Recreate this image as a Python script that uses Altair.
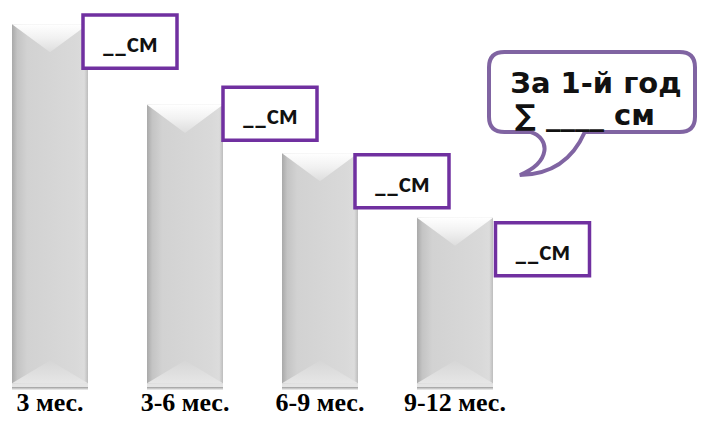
import altair as alt
import pandas as pd

# ---- data ----
periods = ["3 мес.", "3-6 мес.", "6-9 мес.", "9-12 мес."]
growth = [9.0, 7.0, 5.8, 4.2]          # relative bar heights
box_label = "__см"
bubble_line1 = "За 1-й год"
bubble_line2 = "∑ ____  см"

df = pd.DataFrame({"period": periods, "growth": growth})

# ---- layout / style (not data) ----
W, H = 689, 379
box_dx = [80, 85, 82, 87.5]
box_dy = [17.5, 9, 28, 31.5]
PURPLE = "#7030a0"
BUBBLE = "#8064a2"

x_enc = alt.X(
    "period:N", sort=periods,
    scale=alt.Scale(range=[4, 485], paddingInner=0.437, paddingOuter=0),
    axis=alt.Axis(title=None, labelAngle=0, domain=False, ticks=False, labelPadding=23,
                  labelBaseline="alphabetic",
                  labelFont="Liberation Serif", labelFontSize=26, labelFontWeight="bold",
                  labelColor="black", grid=False),
)
y_scale = alt.Scale(domain=[0, 9.4], nice=False, zero=True)
y_enc = alt.Y("growth:Q", scale=y_scale, axis=None)

base = alt.Chart(df)

bar_grad = alt.Gradient(
    gradient="linear", x1=0, y1=0, x2=1, y2=0,
    stops=[
        alt.GradientStop(offset=0.0, color="#a9a9a9"),
        alt.GradientStop(offset=0.07, color="#c4c4c4"),
        alt.GradientStop(offset=0.2, color="#d2d2d2"),
        alt.GradientStop(offset=0.85, color="#d9d9d9"),
        alt.GradientStop(offset=0.95, color="#dcdcdc"),
        alt.GradientStop(offset=1.0, color="#bdbdbd"),
    ],
)
bars = base.mark_bar(fill=bar_grad, opacity=1).encode(x=x_enc, y=y_enc)

top_grad = alt.Gradient(
    gradient="linear", x1=0, y1=0, x2=0, y2=1,
    stops=[
        alt.GradientStop(offset=0.0, color="#ffffff"),
        alt.GradientStop(offset=0.5, color="#f1f1f1"),
        alt.GradientStop(offset=1.0, color="#dddddd"),
    ],
)
top_bevel = base.mark_point(
    shape="M -1 0 L 1 0 L 0 0.74 Z", size=76 * 76, filled=True,
    fill=top_grad, opacity=1, strokeWidth=0,
).encode(x=x_enc, y=y_enc)

bot_grad = alt.Gradient(
    gradient="linear", x1=0, y1=0, x2=0, y2=1,
    stops=[
        alt.GradientStop(offset=0.0, color="#d6d6d6"),
        alt.GradientStop(offset=1.0, color="#e6e6e6"),
    ],
)
bottom_bevel = base.transform_calculate(zero="0").mark_point(
    shape="M -1 -0.1 L 1 -0.1 L 0 -0.7 Z", size=76 * 76, filled=True,
    fill=bot_grad, opacity=1, strokeWidth=0,
).encode(x=x_enc, y=alt.Y("zero:Q", scale=y_scale, axis=None))

bottom_strip = base.transform_calculate(zero="0").mark_point(
    shape="M -1 -0.1 L 1 -0.1 L 1 0 L -1 0 Z", size=76 * 76, filled=True,
    fill="#e4e4e4", opacity=1, strokeWidth=0,
).encode(x=x_enc, y=alt.Y("zero:Q", scale=y_scale, axis=None))

shadow_grad = alt.Gradient(
    gradient="linear", x1=0, y1=0, x2=0, y2=1,
    stops=[
        alt.GradientStop(offset=0.0, color="#9c9c9c"),
        alt.GradientStop(offset=1.0, color="#ffffff"),
    ],
)
bottom_shadow = base.transform_calculate(zero="0").mark_point(
    shape="M -1 0 L 1 0 L 1 0.09 L -1 0.09 Z", size=76 * 76, filled=True,
    fill=shadow_grad, opacity=1, strokeWidth=0,
).encode(x=x_enc, y=alt.Y("zero:Q", scale=y_scale, axis=None))

layers = [bottom_shadow, bars, top_bevel, bottom_bevel, bottom_strip]

box_shape = "M -1 -0.564 L 1 -0.564 L 1 0.564 L -1 0.564 Z"
for i, p in enumerate(periods):
    sub = base.transform_filter(alt.datum.period == p)
    box = sub.mark_point(
        shape=box_shape, size=94 * 94, filled=True, fill="white", stroke=PURPLE,
        strokeWidth=3.5, opacity=1, xOffset=box_dx[i], yOffset=box_dy[i],
    ).encode(x=x_enc, y=y_enc)
    txt = sub.mark_text(
        text=box_label, font="Lato", fontSize=26, fontWeight="bold", color="#111111",
        align="center", baseline="alphabetic",
        xOffset=box_dx[i], yOffset=box_dy[i] + 10.5,
    ).encode(x=x_enc, y=y_enc)
    layers += [box, txt]

one = alt.Chart(pd.DataFrame({"k": [0]}))
bubble_path = (
    "M -0.85 -0.388 L 0.85 -0.388 Q 1 -0.388 1 -0.24 L 1 0.24 Q 1 0.388 0.85 0.388 "
    "L -0.07 0.388 Q -0.25 0.80 -0.70 0.806 C -0.40 0.68 -0.40 0.45 -0.60 0.388 "
    "L -0.85 0.388 Q -1 0.388 -1 0.24 L -1 -0.24 Q -1 -0.388 -0.85 -0.388 Z"
)
bubble = one.mark_point(
    shape=bubble_path, size=206 * 206, filled=True, fill="white", stroke=BUBBLE,
    strokeWidth=4, opacity=1,
).encode(x=alt.value(584), y=alt.value(84))
line1 = one.mark_text(
    text=bubble_line1, font="DejaVu Sans", fontSize=29, fontWeight="bold", color="#111111",
    align="center", baseline="alphabetic",
).encode(x=alt.value(588), y=alt.value(85))
line2 = one.mark_text(
    text=bubble_line2, font="DejaVu Sans", fontSize=29, fontWeight="bold", color="#111111",
    align="center", baseline="alphabetic",
).encode(x=alt.value(577), y=alt.value(117))
layers += [bubble, line1, line2]

chart = alt.layer(*layers).properties(
    width=W, height=H,
    autosize=alt.AutoSizeParams(type="none"),
    padding={"left": 0, "top": 0, "right": 0, "bottom": 28},
    background="white",
).configure_view(strokeWidth=0)

chart.save("out.html", embed_options={"renderer": "svg", "actions": False})
